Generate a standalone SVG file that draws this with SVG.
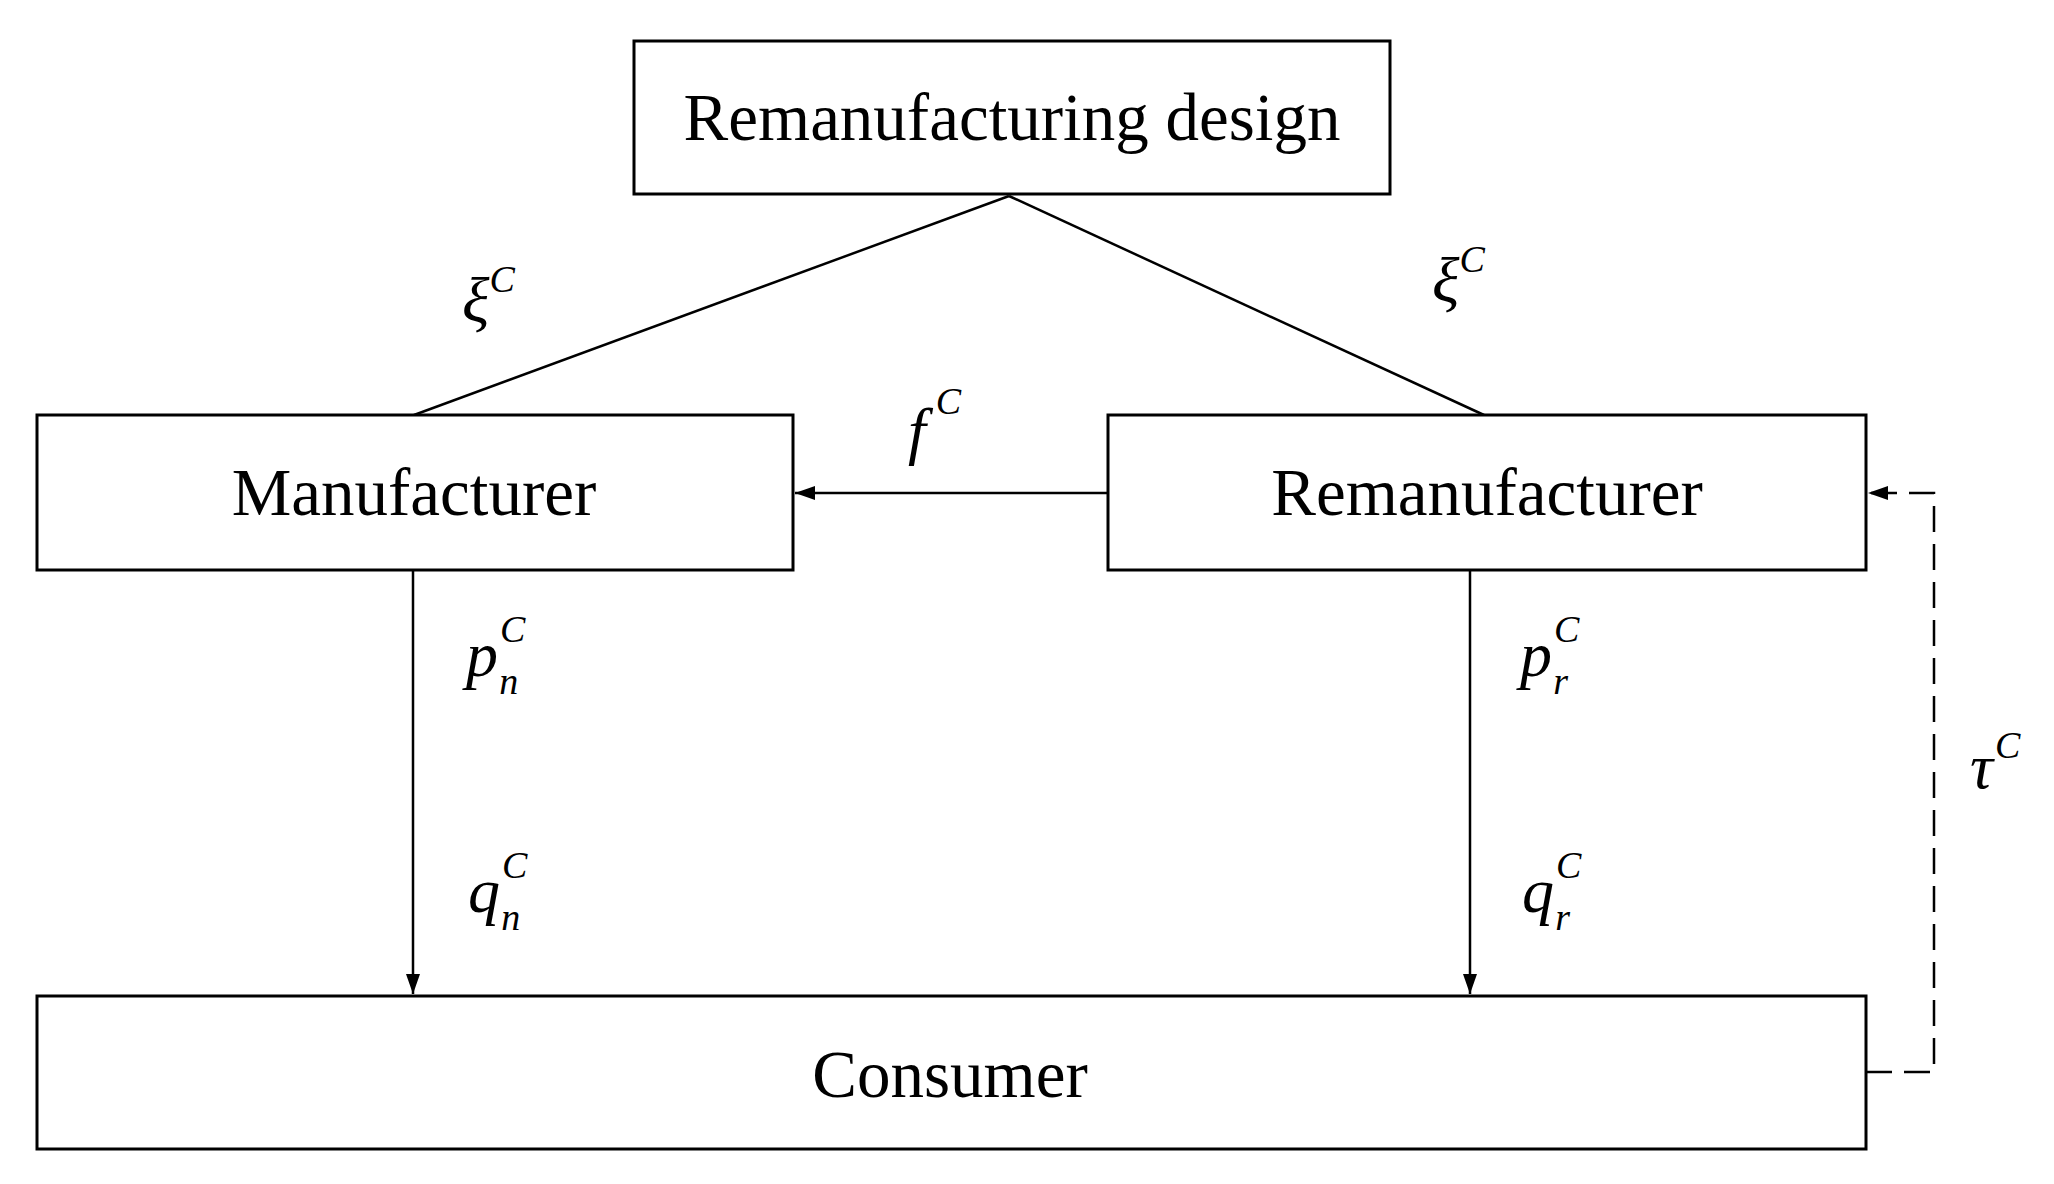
<svg xmlns="http://www.w3.org/2000/svg" width="2054" height="1184" viewBox="0 0 2054 1184">
<style>
.b{fill:#fff;stroke:#000;stroke-width:3}
.t{font-family:"Liberation Serif","Times New Roman",serif;font-size:67px;text-anchor:middle}
.m{font-family:"Liberation Serif","Times New Roman",serif;font-style:italic;font-size:64px}
.s{font-size:38px}
.l{stroke:#000;stroke-width:2.5;fill:none}
</style>
<defs>
<marker id="h" viewBox="0 0 20 14" refX="20" refY="7" markerWidth="20" markerHeight="14" orient="auto" markerUnits="userSpaceOnUse"><path d="M0,0 L20,7 L0,14 Z"/></marker></defs>
<rect width="2054" height="1184" fill="#fff"/>
<g id="connectors">
<line class="l" x1="1009" y1="196" x2="414" y2="415"/>
<line class="l" x1="1009" y1="196" x2="1484" y2="415"/>
<line class="l" x1="1108" y1="493" x2="795" y2="493" marker-end="url(#h)"/>
<line class="l" x1="413" y1="570" x2="413" y2="994" marker-end="url(#h)"/>
<line class="l" x1="1470" y1="570" x2="1470" y2="994" marker-end="url(#h)"/>
<polyline class="l" points="1866,1072 1934,1072 1934,493 1868,493" stroke-dasharray="26,12" marker-end="url(#h)"/>
<text class="m" x="462" y="322">ξ<tspan class="s" dy="-30">C</tspan></text>
<text class="m" x="1432" y="302">ξ<tspan class="s" dy="-30">C</tspan></text>
<text class="m" x="908" y="452">f<tspan class="s" dy="-38" dx="10">C</tspan></text>
<text class="m" x="466" y="676">p<tspan class="s" dy="-34" dx="2">C</tspan><tspan class="s" dx="-26" dy="52">n</tspan></text>
<text class="m" x="468" y="912">q<tspan class="s" dy="-34" dx="2">C</tspan><tspan class="s" dx="-26" dy="52">n</tspan></text>
<text class="m" x="1520" y="676">p<tspan class="s" dy="-34" dx="2">C</tspan><tspan class="s" dx="-26" dy="52">r</tspan></text>
<text class="m" x="1522" y="912">q<tspan class="s" dy="-34" dx="2">C</tspan><tspan class="s" dx="-26" dy="52">r</tspan></text>
<text class="m" x="1970" y="788">τ<tspan class="s" dy="-30" dx="2">C</tspan></text>
</g>
<g id="design"><rect class="b" x="634" y="41" width="756" height="153"/><text class="t" x="1012" y="140">Remanufacturing design</text></g>
<g id="manufacturer"><rect class="b" x="37" y="415" width="756" height="155"/><text class="t" x="414" y="515">Manufacturer</text></g>
<g id="remanufacturer"><rect class="b" x="1108" y="415" width="758" height="155"/><text class="t" x="1487" y="515">Remanufacturer</text></g>
<g id="consumer"><rect class="b" x="37" y="996" width="1829" height="153"/><text class="t" x="950" y="1097">Consumer</text></g>
</svg>
